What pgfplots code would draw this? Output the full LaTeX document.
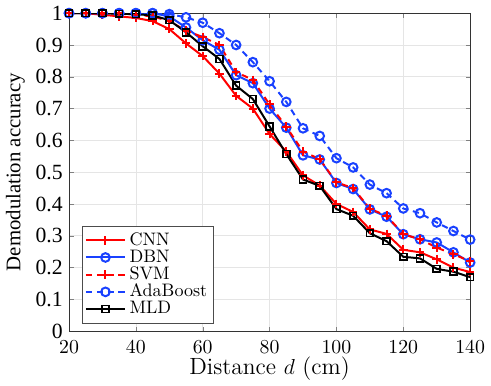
\documentclass[border=0pt]{standalone}
\usepackage{fontspec}
\usepackage{pgfplots}
\pgfplotsset{compat=1.18}
\newfontfamily\tnr{Liberation Serif}
\definecolor{mred}{RGB}{255,0,0}
\definecolor{mblue}{RGB}{25,65,255}
\begin{document}
\begin{tikzpicture}
\begin{axis}[
  scale only axis,
  width=222pt, height=176pt,
  xmin=20, xmax=140, ymin=0, ymax=1,
  xtick={20,40,...,140},
  ytick={0,0.1,...,1.0},
  yticklabel={\fontsize{12}{14}\tnr\pgfmathprintnumber[assume math mode=true]{\tick}},
  xticklabel style={font=\fontsize{10.5}{12}\selectfont, yshift=-1.5pt},
  tick align=inside,
  tick pos=both,
  major tick length=2.5pt,
  grid=major,
  grid style={gray!20, line width=0.4pt},
  axis line style={black!80, line width=0.5pt},
  xlabel={Distance $d$ (cm)},
  ylabel={\tnr Demodulation accuracy},
  xlabel style={font=\fontsize{13}{15}\selectfont, yshift=5pt},
  ylabel style={font=\fontsize{11.5}{13}\selectfont, yshift=-1pt},
  legend style={at={(0.032,0.025)}, anchor=south west, draw=black!70, line width=0.4pt, font=\normalsize, row sep=-3pt, inner sep=1.5pt},
  legend cell align=left,
  legend image code/.code={
    \draw[mark repeat=2,mark phase=2] plot coordinates {(0cm,0cm) (0.38cm,0cm) (0.76cm,0cm)};
  },
]
\addplot[mred, line width=1.1pt, mark=+, mark size=2.4pt, mark options={solid, line width=1.1pt}] coordinates {
(20,1) (25,1) (30,0.995) (35,0.99) (40,0.985) (45,0.975) (50,0.95) (55,0.905) (60,0.865) (65,0.81) (70,0.74) (75,0.70) (80,0.62) (85,0.565) (90,0.49) (95,0.458) (100,0.40) (105,0.375) (110,0.32) (115,0.306) (120,0.256) (125,0.248) (130,0.226) (135,0.20) (140,0.186)};
\addlegendentry{CNN}
\addplot[mblue, line width=1.1pt, mark=o, mark size=2.4pt, mark options={solid, line width=1.1pt}] coordinates {
(20,1) (25,1) (30,1) (35,1) (40,1) (45,1) (50,0.99) (55,0.955) (60,0.915) (65,0.885) (70,0.805) (75,0.78) (80,0.70) (85,0.64) (90,0.553) (95,0.54) (100,0.466) (105,0.447) (110,0.383) (115,0.36) (120,0.305) (125,0.289) (130,0.279) (135,0.248) (140,0.216)};
\addlegendentry{DBN}
\addplot[mred, line width=1.1pt, dash pattern=on 3.5pt off 2.5pt, mark=+, mark size=2.4pt, mark options={solid, line width=1.1pt}] coordinates {
(20,1) (25,1) (30,1) (35,1) (40,0.995) (45,0.99) (50,0.975) (55,0.945) (60,0.925) (65,0.90) (70,0.815) (75,0.79) (80,0.713) (85,0.643) (90,0.565) (95,0.541) (100,0.468) (105,0.45) (110,0.385) (115,0.363) (120,0.305) (125,0.289) (130,0.263) (135,0.242) (140,0.22)};
\addlegendentry{SVM}
\addplot[mblue, line width=1.1pt, dash pattern=on 3.5pt off 2.5pt, mark=o, mark size=2.4pt, mark options={solid, line width=1.1pt}] coordinates {
(20,1) (25,1) (30,1) (35,1) (40,1) (45,1) (50,0.997) (55,0.987) (60,0.97) (65,0.937) (70,0.90) (75,0.846) (80,0.786) (85,0.721) (90,0.638) (95,0.614) (100,0.544) (105,0.515) (110,0.461) (115,0.434) (120,0.386) (125,0.371) (130,0.342) (135,0.315) (140,0.288)};
\addlegendentry{AdaBoost}
\addplot[black, line width=1.1pt, mark=square, mark size=1.9pt, mark options={solid, line width=0.9pt}] coordinates {
(20,1) (25,1) (30,1) (35,0.998) (40,0.997) (45,0.993) (50,0.978) (55,0.94) (60,0.896) (65,0.856) (70,0.772) (75,0.73) (80,0.644) (85,0.557) (90,0.477) (95,0.457) (100,0.384) (105,0.363) (110,0.308) (115,0.283) (120,0.234) (125,0.229) (130,0.196) (135,0.187) (140,0.17)};
\addlegendentry{MLD}
\end{axis}
\end{tikzpicture}
\end{document}
